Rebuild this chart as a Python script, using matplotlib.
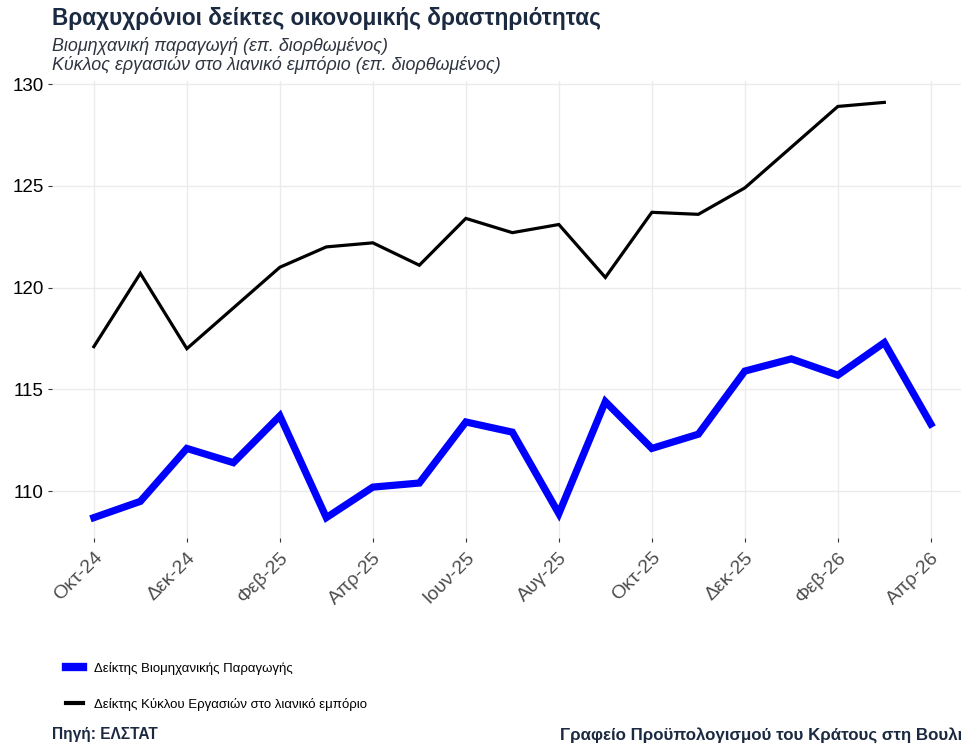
import numpy as np
import matplotlib.pyplot as plt
from matplotlib.lines import Line2D

plt.rcParams['font.family'] = ['Liberation Sans', 'DejaVu Sans']

# μήνες (Οκτ-24 .. Απρ-26)
months = ['Οκτ-24', 'Νοε-24', 'Δεκ-24', 'Ιαν-25', 'Φεβ-25', 'Μαρ-25', 'Απρ-25',
          'Μαϊ-25', 'Ιουν-25', 'Ιουλ-25', 'Αυγ-25', 'Σεπ-25', 'Οκτ-25', 'Νοε-25',
          'Δεκ-25', 'Ιαν-26', 'Φεβ-26', 'Μαρ-26', 'Απρ-26']

# Δείκτης Βιομηχανικής Παραγωγής
industry = [108.7, 109.5, 112.1, 111.4, 113.7, 108.7, 110.2, 110.4, 113.4, 112.9,
            108.9, 114.4, 112.1, 112.8, 115.9, 116.5, 115.7, 117.3, 113.3]

# Δείκτης Κύκλου Εργασιών στο λιανικό εμπόριο (ως Μαρ-26)
retail = [117.1, 120.7, 117.0, 119.0, 121.0, 122.0, 122.2, 121.1, 123.4, 122.7,
          123.1, 120.5, 123.7, 123.6, 124.9, 126.9, 128.9, 129.1]

yticks = [110, 115, 120, 125, 130]

fig = plt.figure(figsize=(9.62, 7.47), dpi=100)
ax = fig.add_axes([52/962, 1-538/747, 1-52/962, (538-81)/747])

x = np.arange(len(months))
ax.plot(x, industry, color='#0000ff', lw=5.2, solid_joinstyle='miter', zorder=3)
ax.plot(x[:len(retail)], retail, color='black', lw=2.3, solid_joinstyle='miter', zorder=3)

ax.set_xlim(-0.9, 18.67)
ax.set_ylim(107.7, 130.15)
ax.set_yticks(yticks)
ax.set_yticklabels([str(v) for v in yticks], fontsize=13.5, color='black')
ax.set_xticks(x[::2])
ax.set_xticklabels(months[::2], fontsize=14, color='#4d4d4d', rotation=45,
                   ha='right', va='top', rotation_mode='anchor')
ax.tick_params(axis='both', length=3, width=0.8, color='#333333', pad=3)
ax.tick_params(axis='x', pad=5)

ax.grid(True, color='#ebebeb', lw=1.0)
ax.set_axisbelow(True)
for s in ax.spines.values():
    s.set_visible(False)

# τίτλοι
fig.text(52/962, 1-18/747, 'Βραχυχρόνιοι δείκτες οικονομικής δραστηριότητας',
         fontsize=16.3, fontweight='bold', color='#1b2a41', va='center')
fig.text(52/962, 1-46/747, 'Βιομηχανική παραγωγή (επ. διορθωμένος)',
         fontsize=12.9, style='italic', color='#2e3440', va='center')
fig.text(52/962, 1-65/747, 'Κύκλος εργασιών στο λιανικό εμπόριο (επ. διορθωμένος)',
         fontsize=12.9, style='italic', color='#2e3440', va='center')

# υπόμνημα
handles = [Line2D([], [], color='#0000ff', lw=6),
           Line2D([], [], color='black', lw=3)]
labels = ['Δείκτης Βιομηχανικής Παραγωγής',
          'Δείκτης Κύκλου Εργασιών στο λιανικό εμπόριο']
fig.legend(handles, labels, loc='upper left', bbox_to_anchor=(54/962, 1-650/747),
           frameon=False, handlelength=1.3, handletextpad=0.8,
           labelspacing=1.75, prop={'family': ['Liberation Sans Narrow', 'Liberation Sans'], 'size': 9.5})

# πηγή
fig.text(52/962, 1-735/747, 'Πηγή: ΕΛΣΤΑΤ', fontsize=11.2, fontweight='bold',
         color='#1b2a41', va='center')
fig.text(560/962, 1-735/747, 'Γραφείο Προϋπολογισμού του Κράτους στη Βουλή',
         fontsize=12.2, fontweight='bold', color='#1b2a41', va='center')

fig.savefig('out.png', dpi=100)
